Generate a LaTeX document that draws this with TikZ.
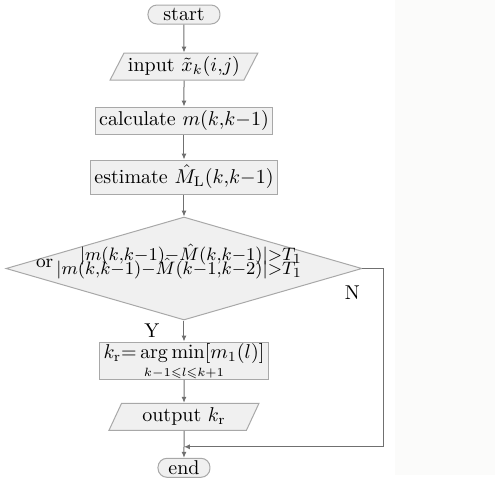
\documentclass[tikz,border=0pt]{standalone}
\usepackage{amsmath,amssymb}
\usepackage{tikz}
\usetikzlibrary{arrows.meta,positioning,shapes.geometric}

\definecolor{boxfill}{HTML}{F0F0F0}
\definecolor{boxline}{HTML}{A8A8A8}
\definecolor{flowline}{HTML}{707070}
\definecolor{panel}{HTML}{FBFBFA}

\begin{document}
\begin{tikzpicture}[
	node distance=12.5pt,
	terminal/.style={rectangle, rounded corners=4.5pt, draw=boxline, fill=boxfill, line width=0.5pt, inner sep=1pt, minimum height=9.5pt},
	io/.style={trapezium, trapezium left angle=60, trapezium right angle=120, trapezium stretches body, draw=boxline, fill=boxfill, line width=0.5pt, inner xsep=2pt, inner ysep=1pt, minimum height=13.5pt},
	block/.style={rectangle, draw=boxline, fill=boxfill, line width=0.5pt, inner xsep=2pt, inner ysep=1.5pt, minimum width=88pt, minimum height=13.5pt},
	decision/.style={diamond, draw=boxline, fill=boxfill, line width=0.5pt, inner sep=0pt, minimum width=178pt, minimum height=51.5pt},
	tag/.style={inner sep=0pt},
	line/.style={-{Latex[length=3pt,width=2.6pt]}, draw=flowline, line width=0.5pt}
]
\useasboundingbox (0,0) rectangle (247.5pt,-239pt);
\fill[panel] (197.5pt,0) rectangle (247.5pt,-237.5pt);

\node[terminal, minimum width=36pt] (start) at (92pt,-7.25pt) {start};
\node[io, minimum width=69.5pt, below=14pt of start] (input) {input $\tilde{x}_k(i{,}j)$};
\node[block, below=13pt of input] (calc) {calculate $m(k{,}k{-}1)$};
\node[block, minimum height=17pt, below=12.5pt of calc] (estimate) {estimate $\hat{M}_{\mathrm{L}}(k{,}k{-}1)$};
\node[decision, below=11pt of estimate] (judge) {};
\node[tag, xshift=-7.5pt, yshift=3pt, font=\fontsize{9.4}{11}\selectfont] (cond) at (judge) {or\,$\begin{array}{@{}r@{}}
	|m(k{,}k{-}1){-}\hat{M}(k{,}k{-}1)|{>}T_1\\[-5pt]
	|m(k{,}k{-}1){-}\hat{M}(k{-}1{,}k{-}2)|{>}T_1
\end{array}$};
\node[block, minimum width=82pt, minimum height=18pt, inner ysep=0.5pt, align=center, below=10.5pt of judge] (argmin) {$k_{\mathrm{r}}{=}\arg\min[m_1(l)]$\\[-3pt]{\fontsize{6}{7}\selectfont$k{-}1{\leqslant}l{\leqslant}k{+}1$}};
\node[io, minimum width=75pt, below=11.5pt of argmin] (output) {output $k_{\mathrm{r}}$};
\node[terminal, minimum width=26pt, below=13.5pt of output] (end) {end};

\coordinate[right=10.5pt of judge.east] (turn);
\coordinate[below=8pt of output.south] (merge);

\node[tag] (yes) at ([xshift=-16pt,yshift=-5pt]judge.south) {Y};
\node[tag] (no) at ([xshift=-5pt,yshift=-12pt]judge.east) {N};

\draw[line] (start) -- (input);
\draw[line] (input) -- (calc);
\draw[line] (calc) -- (estimate);
\draw[line] (estimate) -- (judge);
\draw[line] (judge) -- (argmin);
\draw[line] (argmin) -- (output);
\draw[line] (output) -- (end);
\draw[line] (judge.east) -- (turn) |- (merge);
\end{tikzpicture}
\end{document}
